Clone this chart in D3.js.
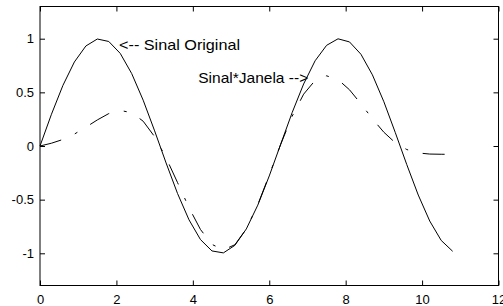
<!DOCTYPE html>
<html>
<head>
<meta charset="utf-8">
<script src="https://cdn.jsdelivr.net/npm/d3@7"></script>
<style>
  body { margin: 0; background: #fff; }
  svg text { font-family: "Liberation Sans", Arial, sans-serif; fill: #000; }
</style>
</head>
<body>
<div id="chart"></div>
<script>
//Datos
const xValues = [0, 0.3, 0.6, 0.9, 1.2, 1.5, 1.8, 2.1, 2.4, 2.7, 3.0, 3.3, 3.6, 3.9, 4.2, 4.5, 4.8, 5.1, 5.4,
    5.7, 6.0, 6.3, 6.6, 6.9, 7.2, 7.5, 7.8, 8.1, 8.4, 8.7, 9.0, 9.3, 9.6, 9.9, 10.2, 10.5, 10.8];

const sinalOriginal = [0, 0.296, 0.565, 0.783, 0.932, 0.997, 0.974, 0.863, 0.675, 0.427, 0.141, -0.158,
    -0.443, -0.688, -0.872, -0.978, -0.996, -0.926, -0.773, -0.551, -0.279, 0.017, 0.312, 0.578, 0.794,
    0.938, 0.999, 0.970, 0.855, 0.663, 0.412, 0.124, -0.174, -0.457, -0.699, -0.880, -0.981];

const sinalJanela = [0, 0.026, 0.061, 0.111, 0.175, 0.243, 0.302, 0.331, 0.311, 0.231, 0.087, -0.110,
    -0.341, -0.575, -0.778, -0.917, -0.968, -0.920, -0.773, -0.547, -0.271, 0.016, 0.278, 0.483, 0.611,
    0.654, 0.619, 0.524, 0.393, 0.254, 0.128, 0.030, -0.033, -0.065, -0.075, -0.077, -0.078];

const xTicks = [0, 2, 4, 6, 8, 10, 12];
const yTicks = [-1, -0.5, 0, 0.5, 1];
const yTickLabels = ['-1', '-0.5', '0', '0.5', '1'];

const annotations = [
    {text: '<-- Sinal Original', x: 2.07, y: 0.94, anchor: 'start'},
    {text: 'Sinal*Janela -->', x: 7.02, y: 0.638, anchor: 'end'}
];

let margin = {top: 6.5, right: 4.5, bottom: 20.5, left: 40},
    width = 503 - margin.left - margin.right,
    height = 306 - margin.top - margin.bottom;

let svg = d3.select('#chart')
    .append('svg')
        .attr('width', 503)
        .attr('height', 306)
    .append('g')
        .attr('transform', 'translate(' + margin.left + ',' + margin.top + ')');

let x = d3.scaleLinear()
    .domain([0, 12])
    .range([0, width]);

let y = d3.scaleLinear()
    .domain([-1.3, 1.3])
    .range([height, 0]);

//Ejes (ticks hacia dentro, en los cuatro lados)
let tick = 5;

svg.append('g')
    .attr('transform', 'translate(0,' + height + ')')
    .call(d3.axisBottom(x).tickValues(xTicks).tickSize(-tick).tickPadding(9).tickFormat(d3.format('d')))
    .call(g => g.select('.domain').remove())
    .call(g => g.selectAll('text').attr('font-size', 13));

svg.append('g')
    .call(d3.axisTop(x).tickValues(xTicks).tickSize(-tick).tickFormat(''))
    .call(g => g.select('.domain').remove());

svg.append('g')
    .call(d3.axisLeft(y).tickValues(yTicks).tickSize(-tick).tickPadding(6)
        .tickFormat((d, i) => yTickLabels[i]))
    .call(g => g.select('.domain').remove())
    .call(g => g.selectAll('text').attr('font-size', 13));

svg.append('g')
    .attr('transform', 'translate(' + width + ',0)')
    .call(d3.axisRight(y).tickValues(yTicks).tickSize(-tick).tickFormat(''))
    .call(g => g.select('.domain').remove());

svg.selectAll('.tick line').attr('stroke', '#000');

svg.append('rect')
    .attr('x', 0)
    .attr('y', 0)
    .attr('width', width)
    .attr('height', height)
    .attr('fill', 'none')
    .attr('stroke', '#000')
    .attr('stroke-width', 1);

//Lineas
let line = d3.line()
    .x((d, i) => x(xValues[i]))
    .y(d => y(d));

svg.append('path')
    .datum(sinalOriginal)
    .attr('fill', 'none')
    .attr('stroke', '#000')
    .attr('stroke-width', 1)
    .attr('d', line);

svg.append('path')
    .datum(sinalJanela)
    .attr('fill', 'none')
    .attr('stroke', '#000')
    .attr('stroke-width', 1)
    .attr('stroke-dasharray', '22,15,3,15')
    .attr('d', line);

//Textos (algo estirados en horizontal, como en el original)
let anchoTexto = [121, 110];

svg.selectAll('.anot')
    .data(annotations)
    .enter()
    .append('text')
    .attr('class', 'anot')
    .attr('x', d => x(d.x))
    .attr('y', d => y(d.y))
    .attr('dy', '0.35em')
    .attr('text-anchor', d => d.anchor)
    .attr('font-size', 15)
    .attr('textLength', (d, i) => anchoTexto[i])
    .attr('lengthAdjust', 'spacingAndGlyphs')
    .text(d => d.text);
</script>
</body>
</html>
